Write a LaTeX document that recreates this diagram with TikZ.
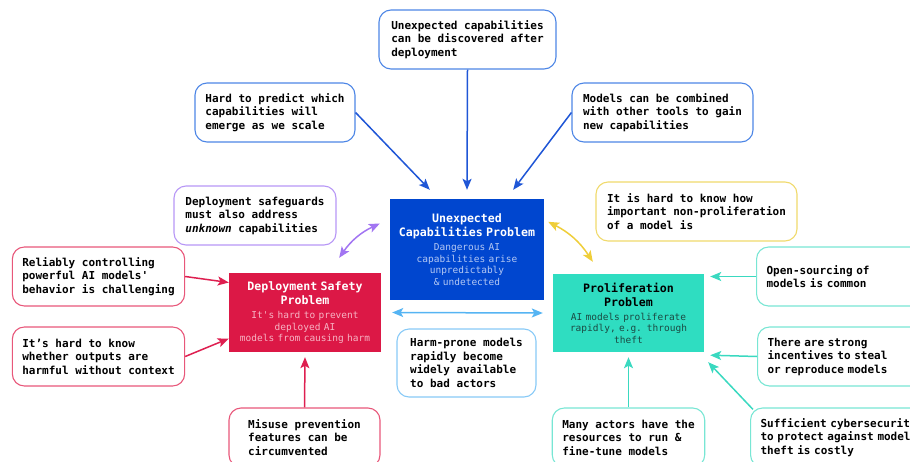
\documentclass[tikz,border=0pt]{standalone}
\usepackage{fontspec}
\usepackage{xcolor}
\usetikzlibrary{arrows.meta,calc}
\newfontfamily\notefont{DejaVu Sans Mono}
\newcommand\probtitle{\notefont\bfseries\fontsize{11.6}{14}\selectfont}
\newcommand\probsub{\notefont\fontsize{9.5}{11.4}\selectfont}
\definecolor{capblue}{HTML}{0046CF}
\definecolor{capline}{HTML}{4D86E6}
\definecolor{caparrow}{HTML}{1F56D6}
\definecolor{capsub}{HTML}{B4C8F4}
\definecolor{deployred}{HTML}{DC1846}
\definecolor{deployline}{HTML}{E8577A}
\definecolor{deployarrow}{HTML}{DE1F50}
\definecolor{deploysub}{HTML}{F7B4C4}
\definecolor{prolifteal}{HTML}{2FDDC1}
\definecolor{prolifline}{HTML}{78E6D4}
\definecolor{prolifarrow}{HTML}{3AD9C0}
\definecolor{prolifsub}{HTML}{1B4A43}
\definecolor{safepurple}{HTML}{B797F6}
\definecolor{safearrow}{HTML}{A275F2}
\definecolor{knowyellow}{HTML}{F0DA6C}
\definecolor{knowarrow}{HTML}{EFCE3A}
\definecolor{harmblue}{HTML}{88CAF7}
\definecolor{harmarrow}{HTML}{55B4F3}

\begin{document}
\begin{tikzpicture}[x=1pt,y=-1pt,
  note/.style={draw, rounded corners=12pt, line width=1.1pt, fill=white, align=left, inner xsep=10pt, minimum height=59pt, font=\notefont\bfseries\fontsize{11}{13.5}\selectfont},
  problem/.style={inner sep=0pt, align=center, text width=#1},
  link/.style={line width=1.5pt, -{Stealth[length=11pt,width=9pt,inset=2.5pt]}},
  both/.style={line width=1.5pt, {Stealth[length=11pt,width=9pt,inset=2.5pt]}-{Stealth[length=11pt,width=9pt,inset=2.5pt]}}]
\useasboundingbox (0,0) rectangle (910,461);
\clip (0,0) rectangle (910,461);
\node[problem=150pt, fill=capblue, minimum width=154pt, minimum height=101pt] (unexp) at (467,249.5) {{\probtitle\color{white}Unexpected\\Capabilities Problem\par}\vspace{3pt}{\probsub\color{capsub}Dangerous AI\\capabilities arise\\unpredictably\\\& undetected\par}};
\node[problem=148pt, fill=deployred, minimum width=152pt, minimum height=79pt] (deploy) at (305,312.5) {{\probtitle\color{white}Deployment Safety\\Problem\par}\vspace{3pt}{\probsub\color{deploysub}It\textquotesingle s hard to prevent\\deployed AI\\models from causing harm\par}};
\node[problem=147pt, fill=prolifteal, minimum width=151pt, minimum height=78pt] (prolif) at (628.5,313) {{\probtitle\color{black}Proliferation\\Problem\par}\vspace{3pt}{\probsub\color{prolifsub}AI models proliferate\\rapidly, e.g. through\\theft\par}};
\node[note, draw=capline, minimum width=177pt] (disc) at (467.5,39.5) {Unexpected capabilities\\can be discovered after\\deployment};
\node[note, draw=capline, minimum width=160pt] (hard) at (275,112.5) {Hard to predict which\\capabilities will\\emerge as we scale};
\node[note, draw=capline, minimum width=181pt] (combine) at (662.5,112.5) {Models can be combined\\with other tools to gain\\new capabilities};
\node[note, draw=safepurple, minimum width=162pt] (guard) at (255,215.5) {Deployment safeguards\\must also address\\\textit{unknown} capabilities};
\node[note, draw=knowyellow, minimum width=201pt] (nonprolif) at (696.5,211.5) {It is hard to know how\\important non-proliferation\\of a model is};
\node[note, draw=deployline, minimum width=171pt] (control) at (98.5,276.5) {Reliably controlling\\powerful AI models\textquotesingle\\behavior is challenging};
\node[note, draw=deployline, minimum width=171pt] (context) at (98.5,356.5) {It’s hard to know\\whether outputs are\\harmful without context};
\node[note, draw=deployline, minimum width=151pt] (misuse) at (304.5,437.5) {Misuse prevention\\features can be\\circumvented};
\node[note, draw=harmblue, minimum width=139pt, minimum height=68pt] (harm) at (466.5,363) {Harm-prone models\\rapidly become\\widely available\\to bad actors};
\node[note, draw=prolifline, minimum width=151pt] (actors) at (628.5,437.5) {Many actors have the\\resources to run \&\\fine-tune models};
\node[note, draw=prolifline, anchor=west, text width=150pt] (opensrc) at (756,276.5) {Open-sourcing of\\models is common};
\node[note, draw=prolifline, anchor=west, text width=150pt] (strong) at (757,356.5) {There are strong\\incentives to steal\\or reproduce models};
\node[note, draw=prolifline, anchor=west, text width=170pt] (cyber) at (750,437.5) {Sufficient cybersecurity\\to protect against model\\theft is costly};
\draw[link, caparrow] (disc.south) -- ([yshift=9pt]unexp.north);
\draw[link, caparrow] (hard.east) -- ([xshift=40pt,yshift=9pt]unexp.north west);
\draw[link, caparrow] (combine.west) -- ([xshift=-31pt,yshift=9pt]unexp.north east);
\draw[both, safearrow] ([xshift=-42pt,yshift=15pt]deploy.north east) to[bend left=15] ([xshift=-10pt,yshift=26pt]unexp.west);
\draw[both, knowarrow] ([xshift=4pt,yshift=-23pt]unexp.north east) to[bend left=15] ([xshift=40pt,yshift=12pt]prolif.north west);
\draw[link, deployarrow] (control.east) -- ([yshift=30pt]deploy.west);
\draw[link, deployarrow] (context.east) -- ([yshift=-26pt]deploy.west);
\draw[link, deployarrow] (misuse.north) -- ([yshift=-5pt]deploy.south);
\draw[both, harmarrow] ([xshift=11pt]deploy.east) -- ([xshift=-10pt]prolif.west);
\draw[link, prolifarrow] (opensrc.west) -- ($(prolif.east |- opensrc.west)+(6,0)$);
\draw[link, prolifarrow] (strong.west) -- ($(prolif.south east)+(6,3)$);
\draw[link, prolifarrow] ($(cyber.north west)+(3,2)$) -- ($(prolif.south east)+(4,10)$);
\draw[link, prolifarrow] (actors.north) -- ([yshift=-5pt]prolif.south);
\end{tikzpicture}
\end{document}
